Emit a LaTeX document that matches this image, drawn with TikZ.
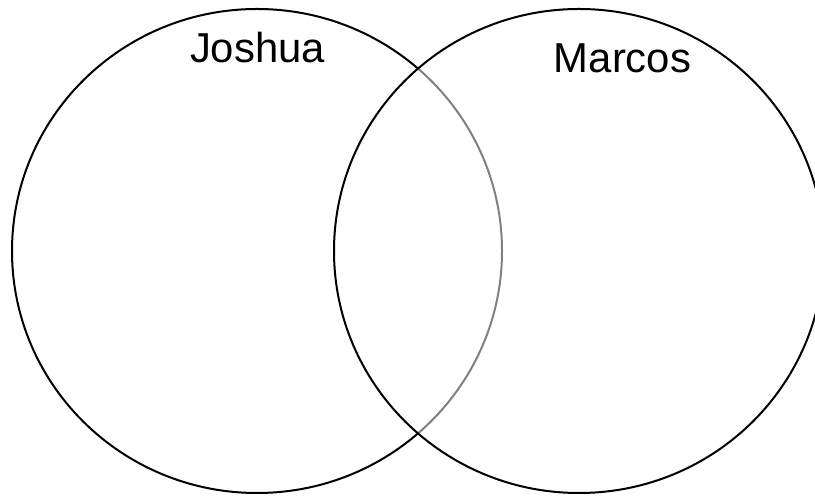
\documentclass[tikz,border=0pt]{standalone}
\usepackage{fontspec}
\setmainfont{Liberation Sans}

\begin{document}
\begin{tikzpicture}[
    x=1bp,
    y=1bp,
    setline/.style={draw=black, line width=2bp},
    overlapline/.style={draw=overlapgrey, line width=2bp},
    setname/.style={anchor=base, font=\fontsize{42}{50}\selectfont, inner sep=0pt}
]

\definecolor{overlapgrey}{RGB}{128,128,128}

\path[use as bounding box] (0,0) rectangle (815,498);

\coordinate (leftc) at (257,247);
\coordinate (rightc) at (579,247);

% Left set: black outside the right set, grey inside it.
\begin{scope}[even odd rule]
    \clip (-10,-10) rectangle (830,510)
        (rightc) ellipse [x radius=245, y radius=242];
    \draw[setline] (leftc) ellipse [x radius=245, y radius=242];
\end{scope}
\begin{scope}
    \clip (rightc) ellipse [x radius=245, y radius=242];
    \draw[overlapline] (leftc) ellipse [x radius=245, y radius=242];
\end{scope}

% Right set.
\draw[setline] (rightc) ellipse [x radius=245, y radius=242];

% Set names.
\node[setname] (joshua) at (257.5,435) {Joshua};
\node[setname] (marcos) at (622.5,425) {Marcos};

\end{tikzpicture}
\end{document}
